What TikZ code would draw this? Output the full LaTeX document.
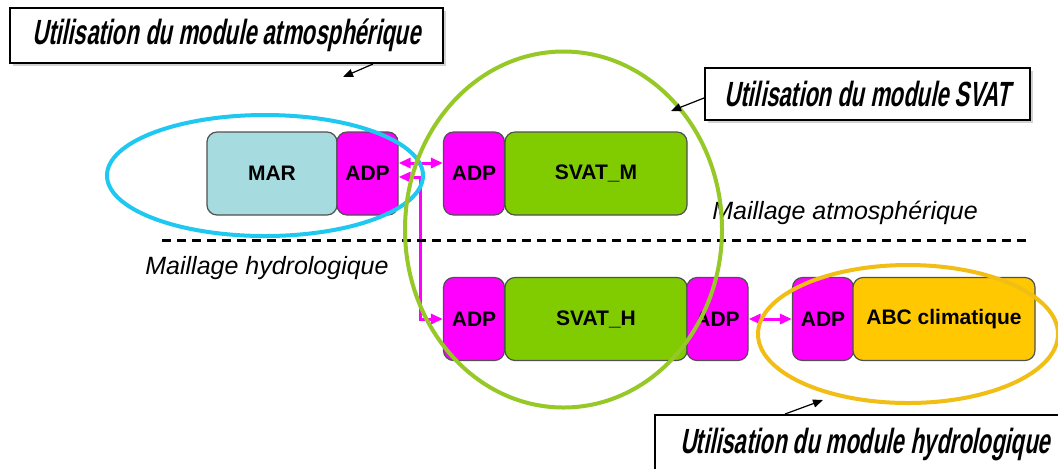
\documentclass[tikz,border=0pt]{standalone}
\usepackage{fontspec}
\setmainfont{Liberation Sans}
\newfontfamily\callfont[FakeStretch=0.63,FakeSlant=0.2]{Liberation Sans}
\usetikzlibrary{shapes.geometric,arrows.meta,shadows}
\definecolor{ecyan}{RGB}{30,200,240}
\definecolor{egreen}{RGB}{150,200,40}
\definecolor{eyellow}{RGB}{240,190,20}
\definecolor{marblue}{RGB}{166,220,224}
\definecolor{mag}{RGB}{255,0,255}
\definecolor{svgreen}{RGB}{128,204,0}
\definecolor{abcyel}{RGB}{255,200,0}
\definecolor{boxgray}{RGB}{80,80,80}
\begin{document}
\begin{tikzpicture}[x=0.5pt,y=-0.5pt,
  mod/.style={draw=boxgray, line width=0.6pt, rounded corners=5pt, minimum height=41.5pt, inner sep=0pt, font=\bfseries\fontsize{10.5}{12}\selectfont},
  adp/.style={mod, fill=mag, minimum width=30.5pt},
  callout/.style={draw=black, line width=1pt, fill=white, inner sep=0pt, font=\callfont\bfseries\fontsize{17.5}{20}\selectfont,
    drop shadow={shadow xshift=1.5pt, shadow yshift=-1.5pt, fill=gray!35, opacity=1}},
  maill/.style={inner sep=0pt, anchor=west, font=\itshape\fontsize{12.5}{14}\selectfont},
  mline/.style={draw=mag, line width=1.5pt, {Triangle[length=6pt,width=5pt]}-{Triangle[length=6pt,width=5pt]}},
  carrow/.style={draw=black, line width=0.6pt, -{Triangle[length=5pt,width=4pt]}},
  ring/.style={ellipse, draw=#1, line width=2pt, inner sep=0pt}
]
\useasboundingbox[fill=white] (0,0) rectangle (1058,468);
\clip (0,0) rectangle (1058,468);

% module boxes
\node[mod, fill=marblue, minimum width=65pt] (mar) at (272,173.5) {MAR};
\node[adp] (adp1) at (367.5,173.5) {ADP};
\node[adp] (adp2) at (474,173.5) {ADP};
\node[mod, fill=svgreen, minimum width=91pt] (svm) at (596,173.5) {SVAT\_M};
\node[adp] (adp3) at (474,319) {ADP};
\node[mod, fill=svgreen, minimum width=91pt] (svh) at (596,319) {SVAT\_H};
\node[adp] (adp4) at (717.5,319) {ADP};
\node[adp] (adp5) at (823,319) {ADP};
\node[mod, fill=abcyel, minimum width=91pt] (abc) at (944,319) {ABC climatique};

% couplings
\draw[mline] ([yshift=5.25pt]adp1.east) -- ([yshift=5.25pt]adp2.west);
\draw[mline] ([yshift=-1.75pt]adp1.east) -- ++(22,0) |- (adp3.west);
\draw[mline] (adp4.east) -- (adp5.west);

% separator
\draw[line width=1.5pt, dash pattern=on 4.5pt off 3pt] (162,240) -- (1030,240);
\node[maill] (matm) at (712,213) {Maillage atmosphérique};
\node[maill] (mhyd) at (145,268) {Maillage hydrologique};

% ellipses
\node[ring=ecyan, minimum width=158pt, minimum height=60.5pt] (ec) at (265,175.5) {};
\node[ring=egreen, minimum width=158.5pt, minimum height=178pt] (eg) at (563.5,229.5) {};
\node[ring=eyellow, minimum width=150pt, minimum height=69pt] (ey) at (908,334) {};

% callouts
\node[callout, minimum width=216.5pt, minimum height=27.5pt] (c1) at (226.5,35.5) {Utilisation du module atmosphérique};
\node[callout, minimum width=162.5pt, minimum height=26pt] (c2) at (867.5,94) {Utilisation du module SVAT};
\node[callout, minimum width=210pt, minimum height=30pt] (c3) at (865,445) {Utilisation du module hydrologique};

\coordinate (t1) at (343,77);
\coordinate (t2) at (671,111);
\coordinate (t3) at (823,400);
\draw[carrow] (c1.south -| 373,0) -- (t1);
\draw[carrow] (c2.west |- 0,98) -- (t2);
\draw[carrow] (c3.north -| 785,0) -- (t3);
\end{tikzpicture}
\end{document}
